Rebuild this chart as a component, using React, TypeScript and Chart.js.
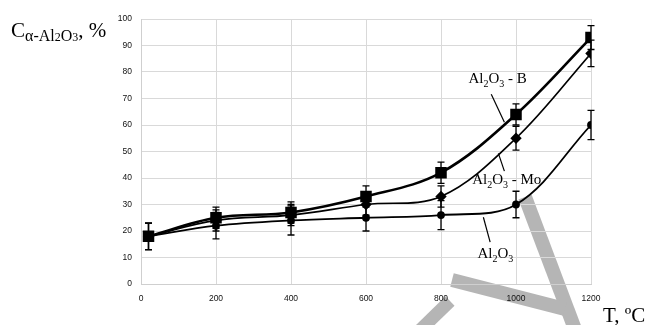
import React, { useEffect, useRef } from "react";
import { Chart, registerables } from "chart.js";

Chart.register(...registerables);

// ---- data ----
const temperatures = [20, 200, 400, 600, 800, 1000, 1200];
const seriesB = [18, 25, 27, 33, 42, 64, 93];
const seriesMo = [18, 24, 26, 30, 33, 55, 87];
const seriesAl = [18, 22, 24, 25, 26, 30, 60];
const errB = [5, 4, 4, 4, 4, 4, 4.5];
const errMo = [5, 4, 4, 4, 4, 4.5, 5];
const errAl = [5, 5, 5.5, 5, 5.5, 5, 5.5];
const xTicks = { min: 0, max: 1200, step: 200 };
const yTicks = { min: 0, max: 100, step: 10 };

// labels with leader lines (data coordinates)
const labelB = { x: 873, y: 75.7, lx1: 934, ly1: 71.6, lx2: 969, ly2: 61, suffix: " - B" };
const labelMo = { x: 883, y: 37.9, lx1: 953, ly1: 49.3, lx2: 969, ly2: 42.6, suffix: " - Mo" };
const labelAl = { x: 897, y: 9.8, lx1: 913, ly1: 25.2, lx2: 931, ly2: 15.8, suffix: "" };

const SERIF = "'Liberation Serif', 'Times New Roman', serif";

type Seg = { t: string; size: number; dy?: number };

function drawRich(ctx: CanvasRenderingContext2D, x: number, y: number, segs: Seg[]) {
  let cx = x;
  ctx.textBaseline = "alphabetic";
  ctx.textAlign = "left";
  for (const s of segs) {
    ctx.font = `${s.size}px ${SERIF}`;
    ctx.fillText(s.t, cx, y + (s.dy || 0));
    cx += ctx.measureText(s.t).width;
  }
  return cx;
}

function alSegs(suffix: string): Seg[] {
  return [
    { t: "Al", size: 15 },
    { t: "2", size: 10, dy: 4 },
    { t: "O", size: 15 },
    { t: "3", size: 10, dy: 4 },
    ...(suffix ? [{ t: suffix, size: 15 }] : []),
  ];
}

const toPts = (vals: number[]) => temperatures.map((x, i) => ({ x, y: vals[i] }));

export default function App() {
  const ref = useRef<HTMLCanvasElement>(null);

  useEffect(() => {
    const canvas = ref.current!;
    const errs = [errB, errMo, errAl];

    const watermark = {
      id: "watermark",
      beforeDraw(chart: any) {
        const ctx = chart.ctx as CanvasRenderingContext2D;
        ctx.save();
        ctx.strokeStyle = "#b5b5b5";
        ctx.lineCap = "butt";
        ctx.lineWidth = 14;
        ctx.beginPath();
        ctx.moveTo(525, 197);
        ctx.lineTo(576, 332);
        ctx.stroke();
        ctx.beginPath();
        ctx.moveTo(452, 280);
        ctx.lineTo(565, 309);
        ctx.stroke();
        ctx.lineWidth = 13;
        ctx.beginPath();
        ctx.moveTo(450, 301);
        ctx.lineTo(413, 337);
        ctx.stroke();
        ctx.restore();
      },
    };

    const errorBars = {
      id: "errorBars",
      beforeDatasetsDraw(chart: any) {
        const ctx = chart.ctx as CanvasRenderingContext2D;
        const xs = chart.scales.x;
        const ys = chart.scales.y;
        ctx.save();
        ctx.strokeStyle = "#000";
        ctx.lineWidth = 1.3;
        chart.data.datasets.forEach((ds: any, di: number) => {
          ds.data.forEach((p: any, i: number) => {
            const e = errs[di][i];
            const px = xs.getPixelForValue(p.x);
            const top = ys.getPixelForValue(p.y + e);
            const bot = ys.getPixelForValue(p.y - e);
            ctx.beginPath();
            ctx.moveTo(px, top);
            ctx.lineTo(px, bot);
            ctx.moveTo(px - 3.5, top);
            ctx.lineTo(px + 3.5, top);
            ctx.moveTo(px - 3.5, bot);
            ctx.lineTo(px + 3.5, bot);
            ctx.stroke();
          });
        });
        ctx.restore();
      },
    };

    const annotations = {
      id: "annotations",
      afterDraw(chart: any) {
        const ctx = chart.ctx as CanvasRenderingContext2D;
        const xs = chart.scales.x;
        const ys = chart.scales.y;
        ctx.save();
        ctx.fillStyle = "#000";
        ctx.strokeStyle = "#000";
        ctx.lineWidth = 1.2;
        for (const l of [labelB, labelMo, labelAl]) {
          ctx.beginPath();
          ctx.moveTo(xs.getPixelForValue(l.lx1), ys.getPixelForValue(l.ly1));
          ctx.lineTo(xs.getPixelForValue(l.lx2), ys.getPixelForValue(l.ly2));
          ctx.stroke();
          drawRich(ctx, xs.getPixelForValue(l.x), ys.getPixelForValue(l.y), alSegs(l.suffix));
        }
        // y-axis title
        let cx = drawRich(ctx, 11, 36.5, [{ t: "C", size: 21 }]);
        cx = drawRich(ctx, cx, 41, [
          { t: "α-Al", size: 16 },
          { t: "2", size: 12 },
          { t: "O", size: 16 },
          { t: "3", size: 12 },
        ]);
        drawRich(ctx, cx, 36.5, [{ t: ", %", size: 21 }]);
        // x-axis title
        drawRich(ctx, 603, 322, [{ t: "T, ºC", size: 21 }]);
        ctx.restore();
      },
    };

    const tickFont = { family: "'Liberation Sans', Arial, sans-serif", size: 8.5 };
    const plain = (v: any) => String(v);

    const chart = new Chart(canvas, {
      type: "line",
      data: {
        datasets: [
          {
            label: "Al2O3 - B",
            data: toPts(seriesB),
            borderColor: "#000",
            backgroundColor: "#000",
            borderWidth: 2.6,
            pointStyle: "rect",
            pointRadius: 6.3,
            tension: 0.35,
          },
          {
            label: "Al2O3 - Mo",
            data: toPts(seriesMo),
            borderColor: "#000",
            backgroundColor: "#000",
            borderWidth: 1.7,
            pointStyle: "rectRot",
            pointRadius: 4.5,
            tension: 0.35,
          },
          {
            label: "Al2O3",
            data: toPts(seriesAl),
            borderColor: "#000",
            backgroundColor: "#000",
            borderWidth: 1.8,
            pointStyle: "circle",
            pointRadius: 3,
            tension: 0.35,
          },
        ],
      },
      options: {
        responsive: false,
        animation: false,
        devicePixelRatio: 1,
        layout: { padding: { top: 19, right: 61, left: 0, bottom: 0 } },
        plugins: { legend: { display: false }, tooltip: { enabled: false } },
        scales: {
          x: {
            type: "linear",
            min: xTicks.min,
            max: xTicks.max,
            ticks: { stepSize: xTicks.step, font: tickFont, color: "#111", padding: 10, maxRotation: 0, callback: plain },
            grid: { color: "#d9d9d9", drawTicks: false },
            border: { color: "#cfcfcf" },
            afterFit: (s: any) => {
              s.height = 41;
            },
          },
          y: {
            min: yTicks.min,
            max: yTicks.max,
            ticks: { stepSize: yTicks.step, font: tickFont, color: "#111", padding: 9, callback: plain },
            grid: { color: "#d9d9d9", drawTicks: false },
            border: { color: "#cfcfcf" },
            afterFit: (s: any) => {
              s.width = 141;
            },
          },
        },
      },
      plugins: [watermark, errorBars, annotations],
    } as any);

    return () => chart.destroy();
  }, []);

  return (
    <div style={{ position: "absolute", left: 0, top: 0, width: 652, height: 325, background: "#fff" }}>
      <canvas ref={ref} width={652} height={325} style={{ display: "block" }} />
    </div>
  );
}
